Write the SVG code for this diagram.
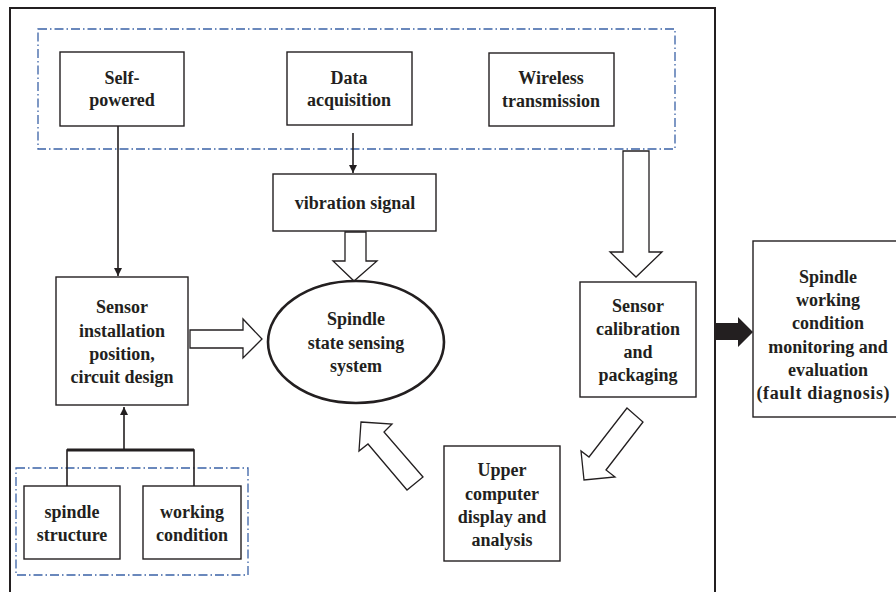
<svg xmlns="http://www.w3.org/2000/svg" width="896" height="592" viewBox="0 0 896 592">
<defs>
<style>
.box{fill:#fff;stroke:#231f20;stroke-width:1.4}
.dash{fill:none;stroke:#3a62a6;stroke-width:1.3;stroke-dasharray:9 3 1.5 3}
.t{font-family:"Liberation Serif","Times New Roman",serif;font-weight:bold;font-size:18px;fill:#231f20;text-anchor:middle}
.ln{fill:none;stroke:#231f20;stroke-width:1.6}
.hollow{fill:#fff;stroke:#231f20;stroke-width:1.3;stroke-linejoin:miter}
</style>
<marker id="ah" viewBox="0 0 10 10" refX="10" refY="5" markerWidth="8" markerHeight="8" markerUnits="userSpaceOnUse" orient="auto">
<path d="M0,0 L10,5 L0,10 z" fill="#231f20"/>
</marker>
</defs>
<rect width="896" height="592" fill="#fff"/>
<g id="frame"><rect x="10" y="8" width="705" height="600" fill="none" stroke="#231f20" stroke-width="2"/></g>
<g id="group-top"><rect class="dash" x="38" y="29" width="637" height="120"/></g>
<g id="group-bottom"><rect class="dash" x="16" y="468" width="232" height="107"/></g>

<g id="connectors">
<line class="ln" x1="118" y1="126" x2="118" y2="276" marker-end="url(#ah)"/>
<line class="ln" x1="353" y1="133" x2="353" y2="173" marker-end="url(#ah)"/>
<path class="ln" d="M67,486 V450 H194 V486" stroke-width="1.6"/>
<line x1="67" y1="450" x2="194" y2="450" stroke="#231f20" stroke-width="3"/>
<line class="ln" x1="124" y1="450" x2="124" y2="407" marker-end="url(#ah)"/>
<polygon class="hollow" points="345,232 366,232 366,261 377,261 354,281 333,261 345,261"/>
<polygon class="hollow" points="190,330 243,330 243,319 262,339 243,358 243,348 190,348"/>
<polygon class="hollow" points="623,151 649,151 649,252 662,252 636,277 610,252 623,252"/>
<polygon class="hollow" points="361,422 392,424 384,432 423,477 407,490 368,444 359,451"/>
<polygon class="hollow" points="627,408 643,422 606,470 615,477 584,480 581,451 589,457"/>
<polygon points="715,323 738,323 738,317 753,332 738,347 738,340 715,340" fill="#231f20"/>
</g>

<g id="self-powered"><rect class="box" x="60" y="52" width="124" height="74"/>
<text class="t" x="122" y="84">Self-</text><text class="t" x="122" y="106">powered</text></g>
<g id="data-acquisition"><rect class="box" x="287" y="52" width="125" height="73"/>
<text class="t" x="349" y="84">Data</text><text class="t" x="349" y="106">acquisition</text></g>
<g id="wireless"><rect class="box" x="489" y="53" width="125" height="73"/>
<text class="t" x="551" y="84">Wireless</text><text class="t" x="551" y="107">transmission</text></g>
<g id="vibration"><rect class="box" x="273" y="174" width="163" height="57"/>
<text class="t" x="355" y="209">vibration signal</text></g>
<g id="sensor-installation"><rect class="box" x="56" y="277" width="132" height="128"/>
<text class="t" x="122" y="313">Sensor</text><text class="t" x="122" y="337">installation</text><text class="t" x="122" y="360">position,</text><text class="t" x="122" y="383">circuit design</text></g>
<g id="spindle-system"><ellipse cx="356" cy="342" rx="88" ry="61" fill="#fff" stroke="#231f20" stroke-width="2.6"/>
<text class="t" x="356" y="325">Spindle</text><text class="t" x="356" y="349">state sensing</text><text class="t" x="356" y="372">system</text></g>
<g id="sensor-calibration"><rect class="box" x="580" y="282" width="116" height="115"/>
<text class="t" x="638" y="312">Sensor</text><text class="t" x="638" y="335">calibration</text><text class="t" x="638" y="358">and</text><text class="t" x="638" y="381">packaging</text></g>
<g id="monitoring"><rect class="box" x="753" y="241" width="150" height="176"/>
<text class="t" x="828" y="283">Spindle</text><text class="t" x="828" y="306">working</text><text class="t" x="828" y="329">condition</text><text class="t" x="828" y="353">monitoring and</text><text class="t" x="828" y="376">evaluation</text><text class="t" x="823" y="399" textLength="133" lengthAdjust="spacing">(fault diagnosis)</text></g>
<g id="upper-computer"><rect class="box" x="444" y="446" width="116" height="115"/>
<text class="t" x="502" y="476">Upper</text><text class="t" x="502" y="500">computer</text><text class="t" x="502" y="523">display and</text><text class="t" x="502" y="546">analysis</text></g>
<g id="spindle-structure"><rect class="box" x="24" y="486" width="96" height="73"/>
<text class="t" x="72" y="518">spindle</text><text class="t" x="72" y="541">structure</text></g>
<g id="working-condition"><rect class="box" x="143" y="486" width="98" height="73"/>
<text class="t" x="192" y="518">working</text><text class="t" x="192" y="541">condition</text></g>
</svg>
